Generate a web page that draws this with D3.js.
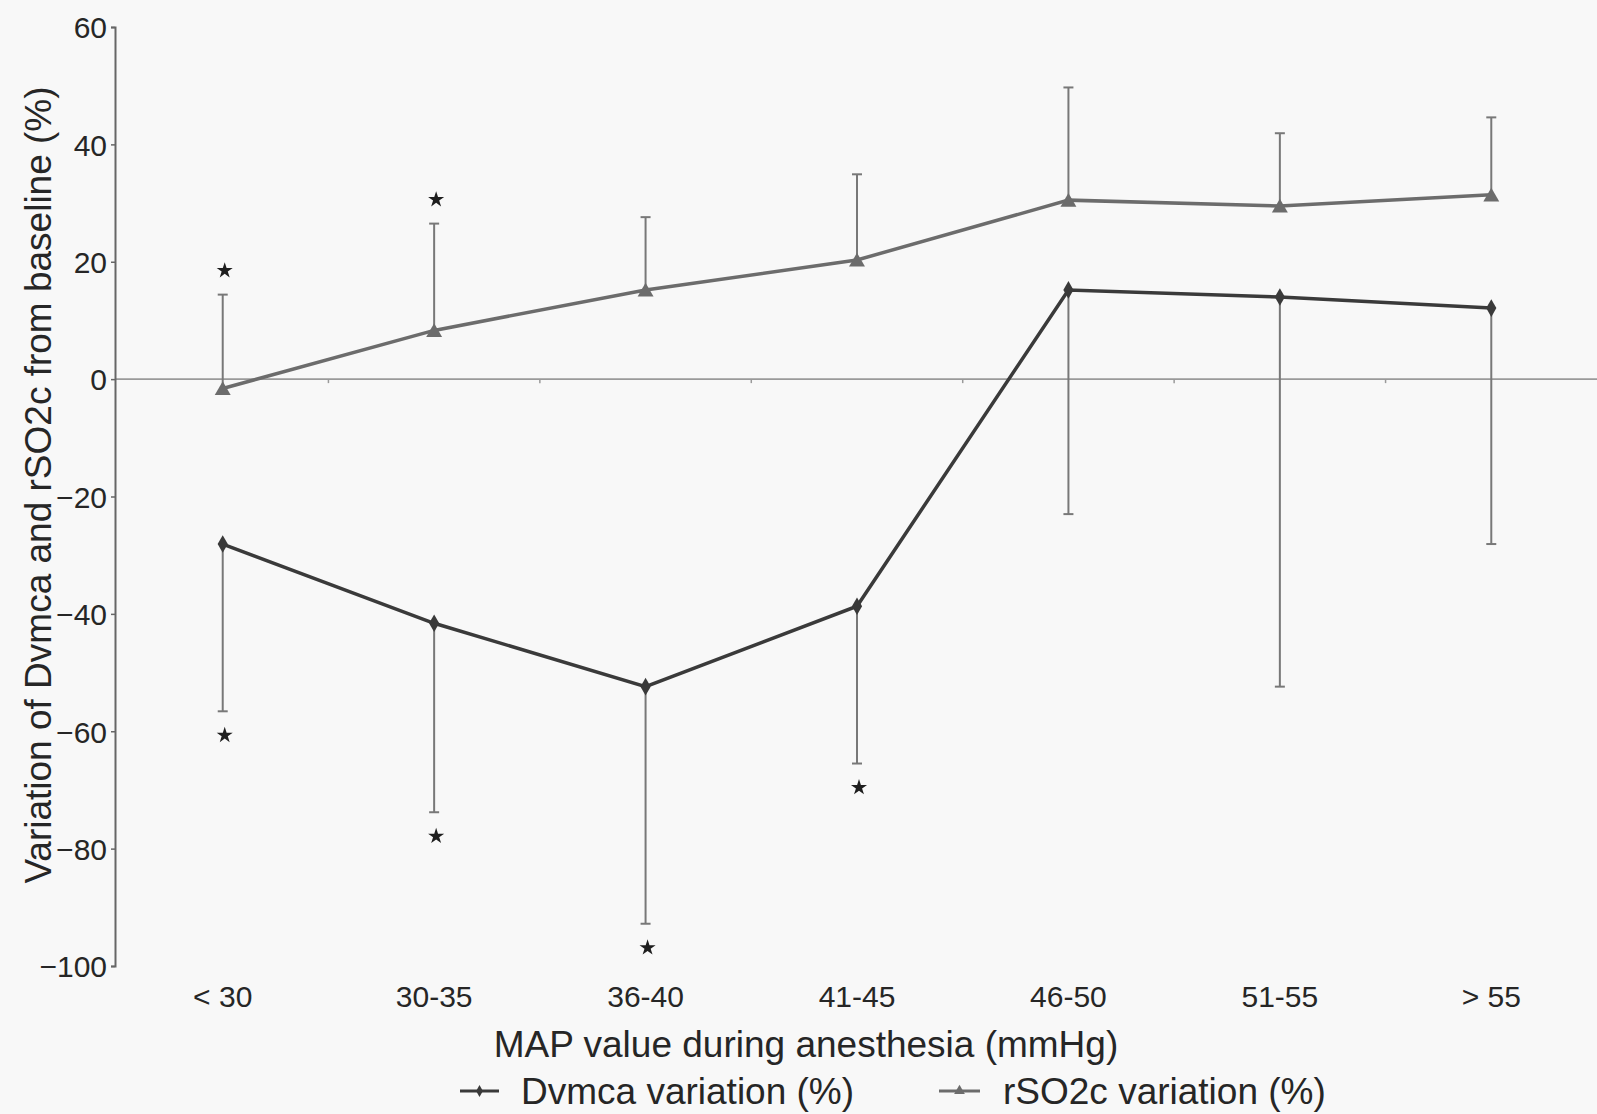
<!DOCTYPE html>
<html>
<head>
<meta charset="utf-8">
<script src="https://cdn.jsdelivr.net/npm/d3@7"></script>
<style>
html,body{margin:0;padding:0;background:#f8f8f8;}
svg{display:block;}
text{font-family:"Liberation Sans",Arial,sans-serif;fill:#262626;}
</style>
</head>
<body>
<svg id="chart" width="1597" height="1114"></svg>
<script>
const categories = ["< 30","30-35","36-40","41-45","46-50","51-55","> 55"];
const dvmcaMean = [-28.1,-41.6,-52.4,-38.7,15.2,14.0,12.1];
const dvmcaSD   = [28.5,32.2,40.4,26.8,38.2,66.4,40.2];
const rso2Mean  = [-1.6,8.3,15.2,20.3,30.5,29.5,31.4];
const rso2SD    = [16.0,18.2,12.4,14.6,19.2,12.4,13.2];
const dvmcaSig  = [true,true,true,true,false,false,false];
const rso2Sig   = [true,true,false,false,false,false,false];
const yTicks = [60,40,20,0,-20,-40,-60,-80,-100];
const xTitle = "MAP value during anesthesia (mmHg)";
const yTitle = "Variation of Dvmca and rSO2c from baseline (%)";
const legendLabels = ["Dvmca variation (%)","rSO2c variation (%)"];

const svg = d3.select("#chart");
const W = 1597, H = 1114;
const axisX = 115;
const x = d3.scaleBand().domain(categories).range([axisX+2, W]).padding(0);
const y = d3.scaleLinear().domain([-100,60]).range([966,27]);
const cx = c => x(c) + x.bandwidth()/2;

const dvCol = "#3a3a3a", rsCol = "#6c6c6c", barCol = "#787878";

// zero line with band ticks
const xAxis = d3.axisBottom(x).tickSizeInner(0).tickSizeOuter(0).tickFormat("");
const gx = svg.append("g").attr("transform",`translate(0,${y(0)})`).call(xAxis);
gx.select(".domain").attr("stroke","#9a9a9a").attr("stroke-width",1.6).attr("d",`M${axisX},0H${W}`);
gx.selectAll(".tick").remove();
svg.append("g").selectAll("line").data(categories.slice(1)).join("line")
  .attr("x1",d=>x(d)).attr("x2",d=>x(d)).attr("y1",y(0)).attr("y2",y(0)+4)
  .attr("stroke","#9a9a9a").attr("stroke-width",1.5);

// y axis
const yAxis = d3.axisLeft(y).tickValues(yTicks).tickSize(4).tickPadding(4)
  .tickFormat(d => d<0 ? "\u2212"+Math.abs(d) : d);
const gy = svg.append("g").attr("transform",`translate(${axisX},0)`).call(yAxis);
gy.select(".domain").attr("stroke","#666").attr("stroke-width",2);
gy.selectAll(".tick line").attr("stroke","#666").attr("stroke-width",1.5);
gy.selectAll(".tick text").attr("font-size",30).attr("fill","#262626")
  .attr("font-family","Liberation Sans, Arial, sans-serif").attr("dy","0.36em");

// x tick labels
svg.append("g").selectAll("text").data(categories).join("text")
  .attr("x",d=>cx(d)).attr("y",1007).attr("text-anchor","middle")
  .attr("font-size",30).text(d=>d);

// titles
svg.append("text").attr("x",806).attr("y",1057).attr("text-anchor","middle")
  .attr("font-size",37).text(xTitle);
svg.append("text").attr("transform","translate(51,485) rotate(-90)")
  .attr("text-anchor","middle").attr("font-size",37).text(yTitle);

// error bars
function errBars(means, sds, dir, sig){
  const g = svg.append("g");
  categories.forEach((c,i)=>{
    const end = means[i] + dir*sds[i];
    g.append("line").attr("x1",cx(c)).attr("x2",cx(c))
      .attr("y1",y(means[i])).attr("y2",y(end))
      .attr("stroke",barCol).attr("stroke-width",2);
    g.append("line").attr("x1",cx(c)-5).attr("x2",cx(c)+5)
      .attr("y1",y(end)).attr("y2",y(end))
      .attr("stroke",barCol).attr("stroke-width",2);
    if(sig[i]){
      g.append("path").attr("d",d3.symbol(d3.symbolStar,80)())
        .attr("transform",`translate(${cx(c)+2},${y(end) - dir*24})`)
        .attr("fill","#1e1e1e");
    }
  });
}
errBars(rso2Mean, rso2SD, 1, rso2Sig);
errBars(dvmcaMean, dvmcaSD, -1, dvmcaSig);

// lines
const line = d3.line().x((d,i)=>cx(categories[i])).y(d=>y(d));
svg.append("path").datum(rso2Mean).attr("d",line).attr("fill","none")
  .attr("stroke",rsCol).attr("stroke-width",3.5);
svg.append("path").datum(dvmcaMean).attr("d",line).attr("fill","none")
  .attr("stroke",dvCol).attr("stroke-width",3.5);

// markers
svg.append("g").selectAll("path").data(rso2Mean).join("path")
  .attr("d",d3.symbol(d3.symbolTriangle,110)())
  .attr("transform",(d,i)=>`translate(${cx(categories[i])},${y(d)+2})`)
  .attr("fill",rsCol);
svg.append("g").selectAll("path").data(dvmcaMean).join("path")
  .attr("d",d3.symbol(d3.symbolDiamond,90)())
  .attr("transform",(d,i)=>`translate(${cx(categories[i])},${y(d)})`)
  .attr("fill",dvCol);

// legend
const leg = [
  {x0:460, x1:499, tx:521, col:dvCol, sym:d3.symbolDiamond, size:40},
  {x0:939, x1:980, tx:1003, col:rsCol, sym:d3.symbolTriangle, size:50}
];
leg.forEach((l,i)=>{
  const ly = 1091;
  svg.append("line").attr("x1",l.x0).attr("x2",l.x1).attr("y1",ly).attr("y2",ly)
    .attr("stroke",l.col).attr("stroke-width",3);
  svg.append("path").attr("d",d3.symbol(l.sym,l.size)())
    .attr("transform",`translate(${(l.x0+l.x1)/2},${ly})`).attr("fill",l.col);
  svg.append("text").attr("x",l.tx).attr("y",1104).attr("font-size",37).text(legendLabels[i]);
});
</script>
</body>
</html>
